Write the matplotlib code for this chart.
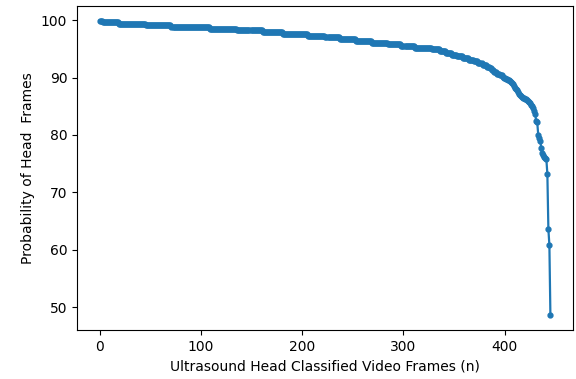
import numpy as np
import matplotlib
matplotlib.use('Agg')
import matplotlib.pyplot as plt

# sorted head-class probabilities (level, frame count)
run_levels = [99.9, 99.7, 99.4, 99.1, 98.8, 98.5, 98.2, 97.9, 97.6, 97.3,
              97.0, 96.7, 96.4, 96.1, 95.8, 95.5, 95.2, 94.9, 94.6, 94.3,
              94.0, 93.7, 93.4, 93.1, 92.8, 92.5, 92.2, 91.9, 91.6, 91.3,
              91.0, 90.7, 90.4]
run_counts = [3, 16, 27, 25, 38, 27, 25, 20, 25, 17,
              14, 16, 16, 16, 13, 13, 17, 8, 6, 6,
              5, 6, 6, 5, 4, 4, 4, 3, 2, 2,
              3, 3, 3]

# last frames, one value each
tail_values = [90.1, 90.0, 89.9, 89.8, 89.7, 89.6, 89.5, 89.4, 89.3, 89.1,
               88.8, 88.5, 88.2, 88.0, 87.8, 87.5, 87.2, 86.9, 86.7, 86.6,
               86.5, 86.4, 86.3, 86.2, 86.1, 85.9, 85.8, 85.6, 85.3, 85.0,
               84.7, 84.2, 83.6, 82.4, 82.2, 80.0, 79.4, 79.0, 77.7, 76.9,
               76.5, 76.2, 76.0, 75.8, 73.2, 63.6, 60.8, 48.6]

probs = np.concatenate([np.repeat(run_levels, run_counts), tail_values])
frames = np.arange(len(probs))

fig = plt.figure(figsize=(5.76, 3.79), dpi=100)
ax = fig.add_axes([0.1337, 0.1293, 0.861, 0.855])
ax.plot(frames, probs, marker='.', markersize=7, linewidth=1.6)
ax.set_xlabel('Ultrasound Head Classified Video Frames (n)')
ax.set_ylabel('Probability of Head  Frames')

fig.savefig('out.png', dpi=100)
